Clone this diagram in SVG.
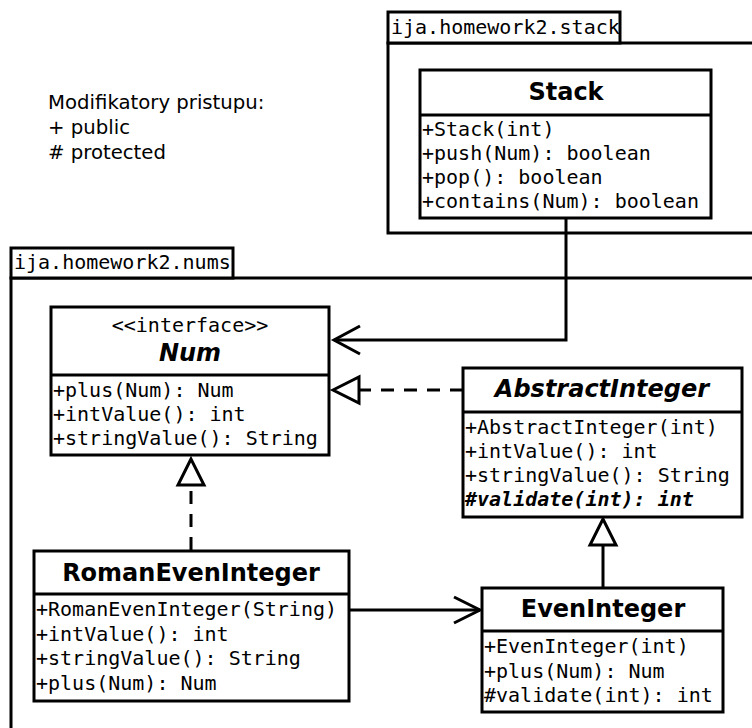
<svg xmlns="http://www.w3.org/2000/svg" width="752" height="728" viewBox="0 0 752 728">
<style>
.box{fill:#fff;stroke:#000;stroke-width:3}
.frame{fill:none;stroke:#000;stroke-width:3}
.ln{fill:none;stroke:#000;stroke-width:3}
.dash{fill:none;stroke:#000;stroke-width:3;stroke-dasharray:13,10}
.tri{fill:#fff;stroke:#000;stroke-width:3}
.m{font-family:"DejaVu Sans Mono",monospace;font-size:20px;fill:#000}
.mbi{font-family:"DejaVu Sans Mono",monospace;font-size:20px;font-weight:bold;font-style:italic;fill:#000}
.t{font-family:"DejaVu Sans",sans-serif;font-size:24px;font-weight:bold;text-anchor:middle;fill:#000}
.ti{font-family:"DejaVu Sans",sans-serif;font-size:24px;font-weight:bold;font-style:italic;text-anchor:middle;fill:#000}
.n{font-family:"DejaVu Sans",sans-serif;font-size:19.7px;fill:#000}
</style>
<rect width="752" height="728" fill="#fff"/>
<g id="note">
<text class="n" x="48" y="109">Modifikatory pristupu:</text>
<text class="n" x="48" y="134">+ public</text>
<text class="n" x="48" y="159"># protected</text>
</g>
<g id="pkg-stack">
<rect class="frame" x="388" y="43" width="400" height="190"/>
<rect class="box" x="388" y="12" width="232" height="31"/>
<text class="m" x="391" y="34">ija.homework2.stack</text>
</g>
<g id="pkg-nums">
<rect class="frame" x="11" y="278" width="800" height="500"/>
<rect class="box" x="11" y="248" width="222" height="30"/>
<text class="m" x="14" y="269">ija.homework2.nums</text>
</g>
<g id="connectors">
<polyline class="ln" points="566,219 566,340 334,340"/>
<polyline class="ln" points="360,326 334,340 360,354"/>
<line class="dash" x1="463" y1="390" x2="359" y2="390"/>
<polygon class="tri" points="333,390 359,377 359,403"/>
<line class="dash" x1="191" y1="550" x2="191" y2="485"/>
<polygon class="tri" points="191,459 178,485 204,485"/>
<line class="ln" x1="603" y1="588" x2="603" y2="545"/>
<polygon class="tri" points="603,519 590,545 616,545"/>
<line class="ln" x1="350" y1="610" x2="480" y2="610"/>
<polyline class="ln" points="454,597 480,610 454,623"/>
</g>
<g id="Stack">
<rect class="box" x="420" y="70" width="291" height="148"/>
<line class="ln" x1="420" y1="115" x2="711" y2="115"/>
<text class="t" x="566" y="100">Stack</text>
<text class="m" x="422" y="136">+Stack(int)</text>
<text class="m" x="422" y="160">+push(Num): boolean</text>
<text class="m" x="422" y="184">+pop(): boolean</text>
<text class="m" x="422" y="208">+contains(Num): boolean</text>
</g>
<g id="Num">
<rect class="box" x="51" y="307" width="278" height="148"/>
<line class="ln" x1="51" y1="375" x2="329" y2="375"/>
<text class="m" x="190" y="332" text-anchor="middle">&lt;&lt;interface&gt;&gt;</text>
<text class="ti" x="190" y="361">Num</text>
<text class="m" x="53" y="397">+plus(Num): Num</text>
<text class="m" x="53" y="421">+intValue(): int</text>
<text class="m" x="53" y="445">+stringValue(): String</text>
</g>
<g id="AbstractInteger">
<rect class="box" x="463" y="368" width="279" height="149"/>
<line class="ln" x1="463" y1="412" x2="742" y2="412"/>
<text class="ti" x="602" y="397">AbstractInteger</text>
<text class="m" x="465" y="434">+AbstractInteger(int)</text>
<text class="m" x="465" y="458">+intValue(): int</text>
<text class="m" x="465" y="482">+stringValue(): String</text>
<text class="mbi" x="465" y="506">#validate(int): int</text>
</g>
<g id="RomanEvenInteger">
<rect class="box" x="34" y="551" width="315" height="150"/>
<line class="ln" x1="34" y1="594" x2="349" y2="594"/>
<text class="t" x="191" y="581">RomanEvenInteger</text>
<text class="m" x="36" y="616">+RomanEvenInteger(String)</text>
<text class="m" x="36" y="641">+intValue(): int</text>
<text class="m" x="36" y="665">+stringValue(): String</text>
<text class="m" x="36" y="690">+plus(Num): Num</text>
</g>
<g id="EvenInteger">
<rect class="box" x="482" y="588" width="241" height="124"/>
<line class="ln" x1="482" y1="631" x2="723" y2="631"/>
<text class="t" x="603" y="617">EvenInteger</text>
<text class="m" x="484" y="653">+EvenInteger(int)</text>
<text class="m" x="484" y="678">+plus(Num): Num</text>
<text class="m" x="484" y="702">#validate(int): int</text>
</g>
</svg>
